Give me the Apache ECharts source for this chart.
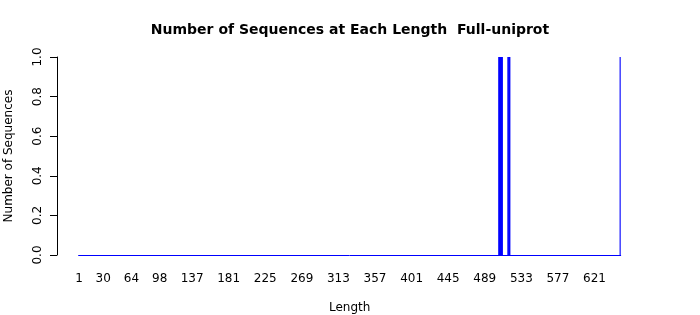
<!DOCTYPE html>
<html>
<head>
<meta charset="utf-8">
<script src="https://cdn.jsdelivr.net/npm/echarts@6/dist/echarts.min.js"></script>
<style>
  html, body { margin: 0; padding: 0; background: #fff; }
  #chart { width: 700px; height: 315px; }
</style>
</head>
<body>
<div id="chart"></div>
<script>
// Sequence lengths (categories) from 1 to the maximum observed length
const maxLength = 652;
// Lengths that have sequences, and how many sequences each has
const barLengths = [506, 507, 508, 509, 510, 517, 518, 519, 652];
const barCounts  = [1, 1, 1, 1, 1, 1, 1, 1, 1];
// Tick labels R managed to print under the bars
const xTickLabels = ['1', '30', '64', '98', '137', '181', '225', '269', '313', '357', '401', '445', '489', '533', '577', '621'];
const yTicks = [0, 0.2, 0.4, 0.6, 0.8, 1.0];

const categories = [];
for (let i = 1; i <= maxLength; i++) categories.push(String(i));
const barData = barLengths.map((l, i) => [String(l), barCounts[i]]);
const showSet = new Set(xTickLabels);

const FONT = 'DejaVu Sans';
const chart = echarts.init(document.getElementById('chart'), null, { renderer: 'canvas' });
chart.setOption({
  animation: false,
  backgroundColor: '#ffffff',
  textStyle: { fontFamily: FONT },
  title: {
    text: 'Number of Sequences at Each Length  Full-uniprot',
    left: 'center',
    top: 18,
    textStyle: { fontFamily: FONT, fontSize: 14, fontWeight: 'bold', color: '#000' }
  },
  grid: { left: 78.6, right: 79.3, top: 57, bottom: 60, containLabel: false, outerBoundsMode: 'none' },
  xAxis: {
    type: 'category',
    data: categories,
    boundaryGap: true,
    name: 'Length',
    nameLocation: 'middle',
    nameGap: 47,
    nameTextStyle: { fontFamily: FONT, fontSize: 12, color: '#000' },
    axisLine: { show: true, lineStyle: { color: '#0000FF', width: 1 } },
    axisTick: { show: false },
    splitLine: { show: false },
    axisLabel: {
      interval: (idx, val) => showSet.has(val),
      margin: 18,
      fontFamily: FONT,
      fontSize: 12,
      color: '#000',
      hideOverlap: false
    }
  },
  yAxis: {
    type: 'value',
    min: 0,
    max: 1,
    interval: 0.2,
    offset: 21.6,
    name: 'Number of Sequences',
    nameLocation: 'middle',
    nameGap: 42,
    nameTextStyle: { fontFamily: FONT, fontSize: 12, color: '#000' },
    axisLine: { show: true, lineStyle: { color: '#000', width: 1 } },
    axisTick: { show: true, inside: false, length: 7, lineStyle: { color: '#000' } },
    splitLine: { show: false },
    axisLabel: {
      rotate: 90,
      margin: 13,
      fontFamily: FONT,
      fontSize: 12,
      color: '#000',
      formatter: v => v.toFixed(1)
    }
  },
  series: [{
    type: 'bar',
    data: barData,
    barWidth: 1.4,
    itemStyle: { color: '#0000FF' },
    silent: true
  }]
});
</script>
</body>
</html>
